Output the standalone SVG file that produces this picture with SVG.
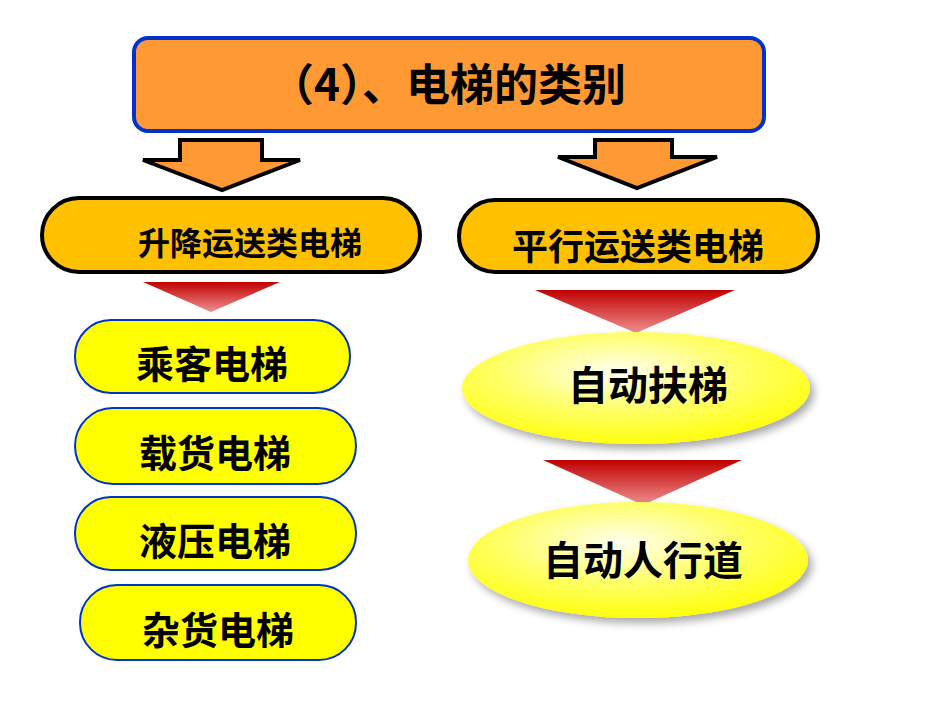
<svg xmlns="http://www.w3.org/2000/svg" width="950" height="713" viewBox="0 0 950 713">
<defs>
<linearGradient id="red" x1="0" y1="0" x2="0" y2="1"><stop offset="0" stop-color="#C00000"/><stop offset="1" stop-color="#F09090"/></linearGradient>
<radialGradient id="yel" cx="0.45" cy="0.35" r="0.7"><stop offset="0" stop-color="#FFFFF0"/><stop offset="0.5" stop-color="#FFFF66"/><stop offset="1" stop-color="#FFFF00"/></radialGradient>
<filter id="sh" x="-10%" y="-10%" width="130%" height="140%"><feGaussianBlur in="SourceAlpha" stdDeviation="4"/><feOffset dx="4" dy="5"/><feComponentTransfer><feFuncA type="linear" slope="0.35"/></feComponentTransfer><feMerge><feMergeNode/><feMergeNode in="SourceGraphic"/></feMerge></filter>
</defs>
<style>
text{font-family:"Noto Sans CJK SC","Liberation Sans",sans-serif;font-weight:bold;fill:#000;text-anchor:middle}
.oarrow{fill:#FF9933;stroke:#000;stroke-width:4;stroke-linejoin:miter}
.pill{fill:#FFC000;stroke:#000;stroke-width:4}
.ypill{fill:#FFFF00;stroke:#0033CC;stroke-width:2}
.tri{fill:url(#red)}
.ell{fill:url(#yel);filter:url(#sh)}
</style>
<g id="title"><rect x="134" y="38" width="630" height="93" rx="14" fill="#FF9933" stroke="#0033CC" stroke-width="4"/><text x="448" y="101" font-size="44">（4）、电梯的类别</text></g>
<g id="connectors">
<polygon class="oarrow" points="180,140 262,140 262,160 300,160 222,190 143,160 180,160"/>
<polygon class="oarrow" points="595,140 672,140 672,157 717,157 637,188 558,157 595,157"/>
<polygon class="tri" points="143,282 280,282 211,312"/>
<polygon class="tri" points="535,290 735,290 636,333"/>
<polygon class="tri" points="543,460 742,460 643,505"/>
</g>
<g id="lift"><rect class="pill" x="42" y="198" width="378" height="74" rx="37"/><text x="250" y="255" font-size="32">升降运送类电梯</text></g>
<g id="flat"><rect class="pill" x="459" y="200" width="359" height="72" rx="36"/><text x="638" y="260" font-size="36">平行运送类电梯</text></g>
<g id="n1"><rect class="ypill" x="75" y="320" width="275" height="73" rx="36"/><text x="212" y="378" font-size="38">乘客电梯</text></g>
<g id="n2"><rect class="ypill" x="75" y="408" width="281" height="76" rx="38"/><text x="215" y="467" font-size="38">载货电梯</text></g>
<g id="n3"><rect class="ypill" x="75" y="497" width="281" height="73" rx="36"/><text x="215" y="555" font-size="38">液压电梯</text></g>
<g id="n4"><rect class="ypill" x="80" y="585" width="276" height="75" rx="37"/><text x="218" y="644" font-size="38">杂货电梯</text></g>
<g id="n5"><ellipse class="ell" cx="636" cy="388" rx="174" ry="56"/><text x="648" y="400" font-size="40">自动扶梯</text></g>
<g id="n6"><ellipse class="ell" cx="638" cy="560" rx="170" ry="58"/><text x="643" y="575" font-size="40">自动人行道</text></g>
</svg>
